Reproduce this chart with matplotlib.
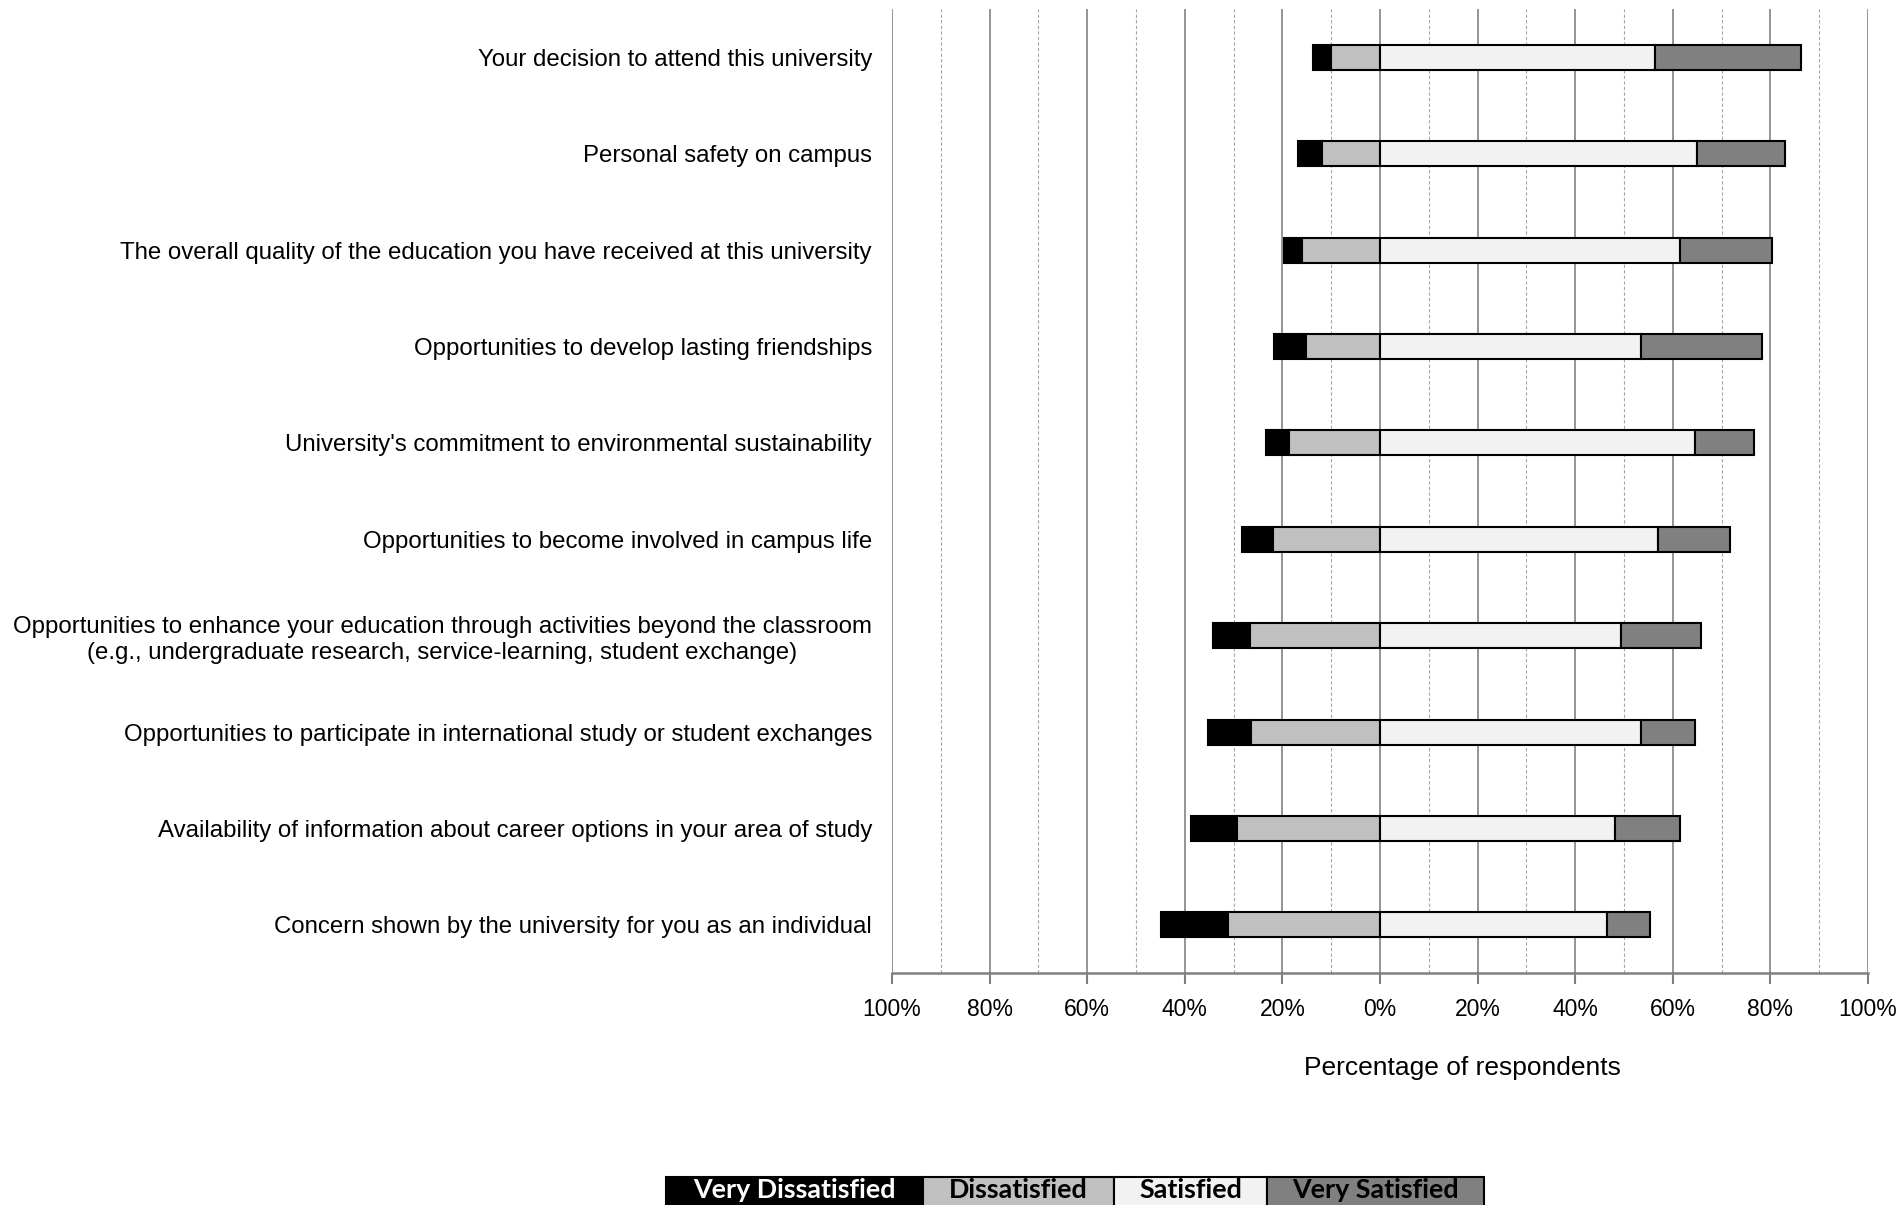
import matplotlib
matplotlib.use("Agg")
import matplotlib.pyplot as plt
from matplotlib.patches import Rectangle
import numpy as np

categories = [
    "Your decision to attend this university",
    "Personal safety on campus",
    "The overall quality of the education you have received at this university",
    "Opportunities to develop lasting friendships",
    "University's commitment to environmental sustainability",
    "Opportunities to become involved in campus life",
    "Opportunities to enhance your education through activities beyond the classroom\n(e.g., undergraduate research, service-learning, student exchange)",
    "Opportunities to participate in international study or student exchanges",
    "Availability of information about career options in your area of study",
    "Concern shown by the university for you as an individual",
]
very_dissatisfied = [3.6, 4.9, 3.7, 6.7, 4.8, 6.4, 7.6, 8.8, 9.4, 13.8]
dissatisfied      = [10.1, 11.9, 15.9, 15.1, 18.6, 21.9, 26.6, 26.4, 29.3, 31.1]
satisfied         = [56.3, 65.0, 61.4, 53.5, 64.6, 57.0, 49.4, 53.5, 48.1, 46.6]
very_satisfied    = [29.9, 18.0, 19.0, 24.7, 12.0, 14.8, 16.4, 11.1, 13.4, 8.7]
series_names = ["Very Dissatisfied", "Dissatisfied", "Satisfied", "Very Satisfied"]
series_colors = ["#000000", "#C0C0C0", "#F2F2F2", "#808080"]
legend_text_colors = ["white", "black", "black", "black"]
tick_values = [-100, -80, -60, -40, -20, 0, 20, 40, 60, 80, 100]
tick_labels = ["100%", "80%", "60%", "40%", "20%", "0%", "20%", "40%", "60%", "80%", "100%"]
x_label = "Percentage of respondents"

W, H = 1902, 1205
fig = plt.figure(figsize=(W / 100, H / 100), dpi=100)
ax = fig.add_axes([892 / W, 1 - 973 / H, (1868 - 892) / W, (973 - 9.3) / H])

y = np.arange(len(categories))
vd = np.array(very_dissatisfied)
d = np.array(dissatisfied)
s = np.array(satisfied)
vs = np.array(very_satisfied)
bh = 0.26
kw = dict(height=bh, edgecolor="black", linewidth=1.5, zorder=3)
ax.barh(y, vd, left=-(d + vd), color=series_colors[0], **kw)
ax.barh(y, d, left=-d, color=series_colors[1], **kw)
ax.barh(y, s, left=0, color=series_colors[2], **kw)
ax.barh(y, vs, left=s, color=series_colors[3], **kw)

ax.set_xlim(-100, 100)
ax.set_ylim(len(categories) - 0.5, -0.5)
ax.set_xticks(tick_values)
ax.set_xticklabels(tick_labels, fontsize=16.5, family="Liberation Sans")
ax.set_xticks(np.arange(-90, 100, 20), minor=True)
ax.set_yticks(y)
ax.set_yticklabels(categories, fontsize=17.3, family="Liberation Sans",
                   multialignment="center")
ax.tick_params(axis="y", length=0, pad=14.4)
ax.tick_params(axis="x", which="major", length=8, width=1.5, color="#808080", pad=10)
ax.tick_params(axis="x", which="minor", length=0)
ax.grid(which="major", axis="x", color="#8C8C8C", linewidth=1.3, zorder=0)
ax.grid(which="minor", axis="x", color="#A6A6A6", linewidth=0.8,
        linestyle=(0, (3, 2)), zorder=0)
ax.set_axisbelow(True)
for sp in ["top", "left", "right"]:
    ax.spines[sp].set_visible(False)
ax.spines["bottom"].set_color("#808080")
ax.spines["bottom"].set_linewidth(1.8)

fig.text(1462 / W, 1 - 1068 / H, x_label, ha="center", va="center",
         fontsize=19, family="Liberation Sans")

# legend strip
edges = [666, 923, 1114, 1267, 1484]
top, bot = 1177, 1215
for i, name in enumerate(series_names):
    x0, x1 = edges[i], edges[i + 1]
    fig.patches.append(Rectangle((x0 / W, 1 - bot / H), (x1 - x0) / W, (bot - top) / H,
                                 transform=fig.transFigure, facecolor=series_colors[i],
                                 edgecolor="black", linewidth=1.5, zorder=1))
    fig.text((x0 + x1) / 2 / W, 1 - 1190 / H, name, ha="center", va="center",
             fontsize=19.4, fontweight="bold", family="Lato",
             color=legend_text_colors[i], zorder=5)

fig.savefig("out.png", dpi=100)
